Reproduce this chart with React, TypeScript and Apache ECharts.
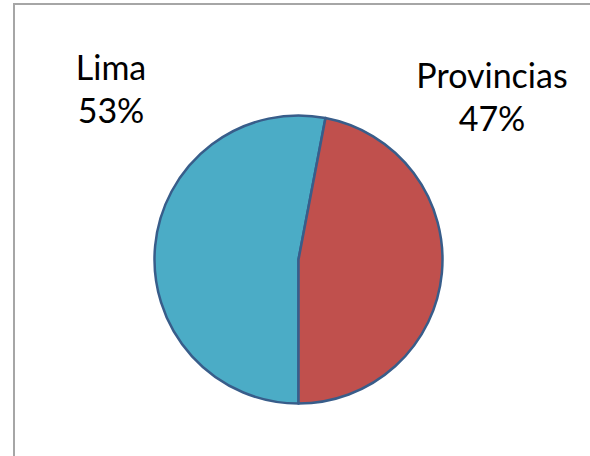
import React, { useEffect, useRef } from "react";
import * as echarts from "echarts";

const categories = ["Lima", "Provincias"];
const values = [53, 47];
const colors = ["#4BACC6", "#C0504D"];

export default function App() {
  const ref = useRef<HTMLDivElement>(null);
  useEffect(() => {
    if (!ref.current) return;
    const chart = echarts.init(ref.current, undefined, { renderer: "svg" });
    const labelPos = [
      { x: 111, y: 45 },
      { x: 492, y: 53 },
    ];
    chart.setOption({
      animation: false,
      backgroundColor: "#ffffff",
      graphic: [
        {
          type: "rect",
          shape: { x: 14, y: 4, width: 700, height: 600 },
          style: { fill: "none", stroke: "#A6A6A6", lineWidth: 2 },
          silent: true,
        },
      ],
      series: [
        {
          type: "pie",
          center: [298.5, 259.5],
          radius: [0, 144],
          startAngle: 270,
          clockwise: true,
          data: categories.map((name, i) => ({
            name,
            value: values[i],
            itemStyle: { color: colors[i] },
          })),
          itemStyle: { borderColor: "#385D8A", borderWidth: 2.5 },
          label: {
            show: true,
            position: "inside",
            formatter: "{b}\n{d}%",
            fontFamily: "Lato",
            fontSize: 34,
            lineHeight: 43,
            color: "#000000",
            align: "center",
            overflow: "none",
          },
          labelLine: { show: false },
          labelLayout: (params: any) => ({
            x: labelPos[params.dataIndex].x,
            y: labelPos[params.dataIndex].y,
            align: "center",
            verticalAlign: "top",
          }),
          emphasis: { disabled: true },
        },
      ],
    });
    return () => chart.dispose();
  }, []);
  return (
    <div
      ref={ref}
      style={{ position: "fixed", left: 0, top: 0, width: 590, height: 456 }}
    />
  );
}
